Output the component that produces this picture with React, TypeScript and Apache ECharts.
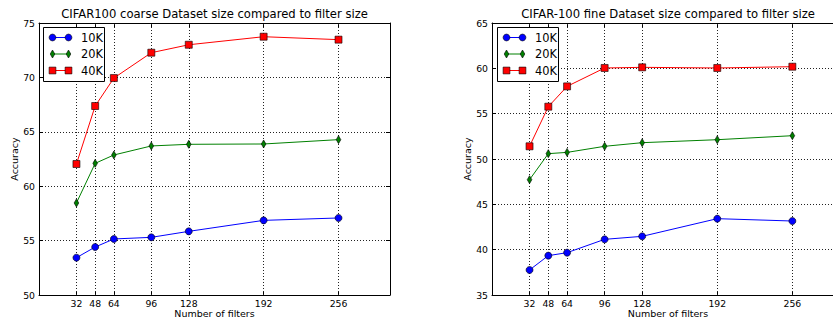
import React, { useEffect, useRef } from "react";
import * as echarts from "echarts";

const filterSizes = [32, 48, 64, 96, 128, 192, 256];
const seriesNames = ["10K", "20K", "40K"];

const coarse10K = [53.43, 54.41, 55.15, 55.3, 55.85, 56.86, 57.08];
const coarse20K = [58.46, 62.1, 62.87, 63.7, 63.85, 63.88, 64.28];
const coarse40K = [62.04, 67.37, 69.94, 72.27, 73.0, 73.74, 73.47];

const fine10K = [37.76, 39.34, 39.67, 41.14, 41.47, 43.42, 43.16];
const fine20K = [47.72, 50.59, 50.73, 51.4, 51.8, 52.13, 52.57];
const fine40K = [51.4, 55.77, 58.01, 60.04, 60.11, 60.04, 60.18];

const titles = [
  "CIFAR100 coarse Dataset size compared to filter size",
  "CIFAR-100 fine Dataset size compared to filter size",
];
const coarseYRange = [50, 75];
const fineYRange = [35, 65];
const yInterval = 5;
const xRange = [0, 300];
const xName = "Number of filters";
const yName = "Accuracy";

const colors = ["#0000ff", "#008000", "#ff0000"];
const symbols = ["circle", "diamond", "rect"];
const symbolSizes: any[] = [7, [4.6, 8], 7];
const FONT = "DejaVu Sans";

const grids = [
  { left: 39, top: 23, width: 351, height: 272 },
  { left: 492, top: 23, width: 352, height: 272 },
];

const Z = 100;

function legendGraphic(x: number, y: number) {
  const children: any[] = [
    {
      type: "rect",
      z: Z,
      shape: { x: 0, y: 0, width: 61, height: 54 },
      style: { fill: "#fff", stroke: "#000", lineWidth: 1 },
    },
  ];
  seriesNames.forEach((name, i) => {
    const cy = 10 + i * 16.5;
    children.push({
      type: "line",
      z: Z + 1,
      shape: { x1: 9, y1: cy, x2: 25, y2: cy },
      style: { stroke: colors[i], lineWidth: 1 },
    });
    [9, 25].forEach((cx) => {
      if (i === 0) {
        children.push({
          type: "circle",
          z: Z + 2,
          shape: { cx, cy, r: 3.4 },
          style: { fill: colors[i], stroke: "#000", lineWidth: 0.6 },
        });
      } else if (i === 1) {
        children.push({
          type: "polygon",
          z: Z + 2,
          shape: {
            points: [
              [cx, cy - 4],
              [cx + 2.3, cy],
              [cx, cy + 4],
              [cx - 2.3, cy],
            ],
          },
          style: { fill: colors[i], stroke: "#000", lineWidth: 0.6 },
        });
      } else {
        children.push({
          type: "rect",
          z: Z + 2,
          shape: { x: cx - 3.4, y: cy - 3.4, width: 6.8, height: 6.8 },
          style: { fill: colors[i], stroke: "#000", lineWidth: 0.6 },
        });
      }
    });
    children.push({
      type: "text",
      z: Z + 2,
      x: 37.5,
      y: cy,
      style: {
        text: name,
        fontFamily: FONT,
        fontSize: 11.4,
        fill: "#000",
        verticalAlign: "middle",
        align: "left",
      },
    });
  });
  return { type: "group", x, y, z: Z, children };
}

export default function App() {
  const ref = useRef<HTMLDivElement>(null);
  useEffect(() => {
    if (!ref.current) return;
    const chart = echarts.init(ref.current, null, { renderer: "svg" });

    const dataSets = [
      [coarse10K, coarse20K, coarse40K],
      [fine10K, fine20K, fine40K],
    ];
    const yRanges = [coarseYRange, fineYRange];

    const xAxes: any[] = [];
    const yAxes: any[] = [];
    const series: any[] = [];

    grids.forEach((g, gi) => {
      const base = xAxes.length;
      xAxes.push({
        type: "value",
        gridIndex: gi,
        position: "bottom",
        min: xRange[0],
        max: xRange[1],
        name: xName,
        nameLocation: "middle",
        nameGap: 13.5,
        nameMoveOverlap: false,
        nameTextStyle: { fontFamily: FONT, fontSize: 9.5, color: "#000" },
        axisLine: { show: true, onZero: false, lineStyle: { color: "#000", width: 1 } },
        axisTick: {
          show: true,
          inside: true,
          length: 4,
          customValues: filterSizes,
          lineStyle: { color: "#000", width: 1 },
        },
        axisLabel: {
          show: true,
          customValues: filterSizes,
          margin: 4,
          fontFamily: FONT,
          fontSize: 9.3,
          color: "#000",
        },
        splitLine: { show: false },
      });
      xAxes.push({
        type: "value",
        gridIndex: gi,
        position: "top",
        min: xRange[0],
        max: xRange[1],
        axisLine: { show: true, onZero: false, lineStyle: { color: "#000", width: 1 } },
        axisTick: {
          show: true,
          inside: true,
          length: 4,
          customValues: filterSizes,
          lineStyle: { color: "#000", width: 1 },
        },
        axisLabel: { show: false },
        splitLine: { show: false },
      });
      xAxes.push({
        type: "value",
        gridIndex: gi,
        position: "bottom",
        min: xRange[0],
        max: xRange[1],
        axisLine: { show: false },
        axisTick: {
          show: true,
          inside: true,
          length: g.height,
          customValues: filterSizes,
          lineStyle: { color: "#222", width: 1, type: [1, 2] },
        },
        axisLabel: { show: false },
        splitLine: { show: false },
      });

      const yBase = yAxes.length;
      yAxes.push({
        type: "value",
        gridIndex: gi,
        position: "left",
        min: yRanges[gi][0],
        max: yRanges[gi][1],
        interval: yInterval,
        name: yName,
        nameLocation: "middle",
        nameGap: 20,
        nameMoveOverlap: false,
        nameTextStyle: { fontFamily: FONT, fontSize: 9.5, color: "#000" },
        axisLine: { show: true, onZero: false, lineStyle: { color: "#000", width: 1 } },
        axisTick: { show: true, inside: true, length: 4, lineStyle: { color: "#000", width: 1 } },
        axisLabel: { margin: 4, fontFamily: FONT, fontSize: 9.3, color: "#000" },
        splitLine: { show: true, lineStyle: { color: "#222", width: 1, type: [1, 2] } },
      });
      yAxes.push({
        type: "value",
        gridIndex: gi,
        position: "right",
        min: yRanges[gi][0],
        max: yRanges[gi][1],
        interval: yInterval,
        axisLine: { show: true, onZero: false, lineStyle: { color: "#000", width: 1 } },
        axisTick: { show: true, inside: true, length: 4, lineStyle: { color: "#000", width: 1 } },
        axisLabel: { show: false },
        splitLine: { show: false },
      });

      dataSets[gi].forEach((vals, si) => {
        series.push({
          type: "line",
          name: seriesNames[si],
          xAxisIndex: base,
          yAxisIndex: yBase,
          data: filterSizes.map((x, k) => [x, vals[k]]),
          symbol: symbols[si],
          symbolSize: symbolSizes[si],
          showAllSymbol: true,
          lineStyle: { color: colors[si], width: 1 },
          itemStyle: { color: colors[si], borderColor: "#000", borderWidth: 0.6 },
          z: 3,
        });
      });
    });

    chart.setOption({
      animation: false,
      backgroundColor: "#fff",
      title: grids.map((g, gi) => ({
        text: titles[gi],
        left: g.left + g.width / 2,
        top: 8,
        padding: 0,
        textAlign: "center",
        textStyle: { fontFamily: FONT, fontSize: 11.6, fontWeight: "normal", color: "#000" },
      })),
      grid: grids.map((g) => ({ ...g, containLabel: false, outerBoundsMode: "none" })),
      xAxis: xAxes,
      yAxis: yAxes,
      series,
      graphic: [legendGraphic(43.5, 27.5), legendGraphic(497.5, 27.5)],
    });

    return () => chart.dispose();
  }, []);

  return (
    <div
      ref={ref}
      style={{ position: "fixed", left: 0, top: 0, width: 833, height: 320, background: "#fff" }}
    />
  );
}
